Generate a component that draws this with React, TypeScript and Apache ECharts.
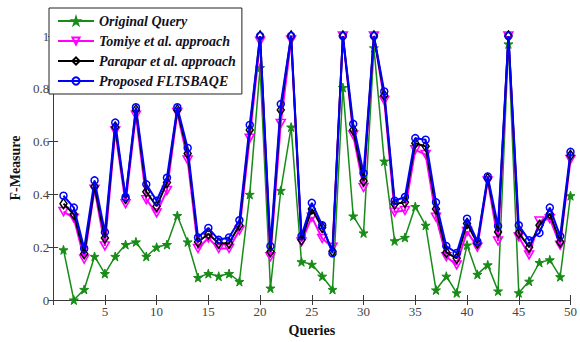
import React, { useEffect, useRef } from "react";
import * as echarts from "echarts";

const queries: number[] = Array.from({ length: 50 }, (_, i) => i + 1);

const originalQuery = [
  0.19, 0.0, 0.04, 0.165, 0.1, 0.165, 0.21, 0.22, 0.165, 0.2,
  0.21, 0.32, 0.22, 0.085, 0.1, 0.09, 0.1, 0.07, 0.4, 0.88,
  0.045, 0.415, 0.655, 0.145, 0.135, 0.09, 0.04, 0.805, 0.318, 0.254,
  0.955, 0.526, 0.224, 0.237, 0.354, 0.283, 0.038, 0.09, 0.027, 0.208,
  0.097, 0.133, 0.034, 0.97, 0.027, 0.071, 0.142, 0.152, 0.088, 0.395,
];

const tomiye = [
  0.335, 0.31, 0.155, 0.42, 0.205, 0.64, 0.365, 0.7, 0.38, 0.33,
  0.415, 0.71, 0.53, 0.195, 0.235, 0.195, 0.195, 0.264, 0.613, 0.98,
  0.164, 0.669, 0.985, 0.22, 0.314, 0.233, 0.2, 1.0, 0.625, 0.426,
  1.0, 0.756, 0.333, 0.339, 0.569, 0.551, 0.314, 0.164, 0.133, 0.26,
  0.2, 0.451, 0.224, 1.0, 0.239, 0.171, 0.299, 0.308, 0.208, 0.532,
];

const parapar = [
  0.365, 0.325, 0.175, 0.43, 0.235, 0.655, 0.385, 0.72, 0.41, 0.355,
  0.445, 0.72, 0.555, 0.22, 0.25, 0.215, 0.215, 0.283, 0.644, 1.0,
  0.183, 0.72, 1.0, 0.228, 0.345, 0.275, 0.185, 1.0, 0.644, 0.451,
  1.0, 0.775, 0.364, 0.37, 0.594, 0.582, 0.345, 0.18, 0.158, 0.29,
  0.215, 0.46, 0.258, 1.0, 0.254, 0.2, 0.283, 0.327, 0.22, 0.548,
];

const proposed = [
  0.395, 0.35, 0.195, 0.453, 0.257, 0.672, 0.39, 0.73, 0.438, 0.376,
  0.463, 0.73, 0.576, 0.237, 0.273, 0.228, 0.237, 0.302, 0.663, 1.0,
  0.204, 0.742, 1.0, 0.242, 0.368, 0.283, 0.177, 1.0, 0.667, 0.48,
  1.0, 0.79, 0.376, 0.39, 0.613, 0.607, 0.37, 0.204, 0.178, 0.308,
  0.222, 0.468, 0.28, 1.0, 0.283, 0.226, 0.254, 0.35, 0.242, 0.561,
];

const seriesNames = [
  "Original Query",
  "Tomiye et al. approach",
  "Parapar et al. approach",
  "Proposed FLTSBAQE",
];

const STAR =
  "path://M50,0 L61,35 L98,35 L68,57 L79,91 L50,70 L21,91 L32,57 L2,35 L39,35 Z";
const TRI_DOWN = "path://M0,0 L10,0 L5,9 Z";

const FONT = "Liberation Serif";
const AXIS_COLOR = "#3a3a3a";

export default function App() {
  const ref = useRef<HTMLDivElement>(null);

  useEffect(() => {
    if (!ref.current) return;
    const chart = echarts.init(ref.current, undefined, { renderer: "svg" });
    const pairs = (vals: number[]) => queries.map((q, i) => [q, vals[i]]);

    const xBase = {
      type: "value" as const,
      min: 0,
      max: 50,
      interval: 5,
      axisLine: { show: true, lineStyle: { color: AXIS_COLOR, width: 1 } },
      axisTick: { show: true, inside: true, length: 5, lineStyle: { color: AXIS_COLOR } },
      splitLine: { show: false },
    };
    const yBase = {
      type: "value" as const,
      min: 0,
      max: 1,
      interval: 0.2,
      axisLine: { show: true, lineStyle: { color: AXIS_COLOR, width: 1 } },
      axisTick: { show: true, inside: true, length: 5, lineStyle: { color: AXIS_COLOR } },
      splitLine: { show: false },
    };

    const mk = (
      name: string,
      vals: number[],
      color: string,
      symbol: string,
      size: number | number[],
      filled: boolean,
      width: number,
      z: number
    ) => ({
      name,
      type: "line",
      data: pairs(vals),
      clip: false,
      symbol,
      symbolSize: size,
      showAllSymbol: true,
      z,
      lineStyle: { color, width },
      itemStyle: filled
        ? { color, borderColor: color, borderWidth: 1 }
        : { color: "rgba(255,255,255,0)", borderColor: color, borderWidth: 1.5 },
      emphasis: { disabled: true },
    });

    chart.setOption({
      animation: false,
      backgroundColor: "#ffffff",
      grid: { left: 48, right: 7, top: 36, bottom: 38, containLabel: false },
      legend: {
        orient: "vertical",
        left: 49,
        top: 8,
        data: seriesNames,
        itemWidth: 36,
        itemHeight: 9,
        itemGap: 4,
        padding: [5, 6, 5, 8],
        backgroundColor: "#ffffff",
        borderColor: "#222",
        borderWidth: 1,
        textStyle: {
          fontFamily: FONT,
          fontStyle: "italic",
          fontWeight: "bold",
          fontSize: 14,
          color: "#111122",
          lineHeight: 16,
        },
        z: 10,
      },
      xAxis: [
        {
          ...xBase,
          position: "bottom",
          name: "Queries",
          nameLocation: "middle",
          nameGap: 23,
          nameTextStyle: { fontFamily: FONT, fontWeight: "bold", fontSize: 14, color: "#111" },
          axisLabel: {
            show: true,
            margin: 5,
            fontFamily: FONT,
            fontSize: 13,
            color: "#444",
            formatter: (v: number) => (v === 0 ? "" : String(v)),
          },
        },
        { ...xBase, position: "top", axisLabel: { show: false } },
      ],
      yAxis: [
        {
          ...yBase,
          position: "left",
          name: "F-Measure",
          nameLocation: "middle",
          nameGap: 28,
          nameTextStyle: { fontFamily: FONT, fontWeight: "bold", fontSize: 14, color: "#111" },
          axisLabel: {
            show: true,
            margin: 4,
            fontFamily: FONT,
            fontSize: 13,
            color: "#444",
          },
        },
        { ...yBase, position: "right", axisLabel: { show: false } },
      ],
      series: [
        mk(seriesNames[0], originalQuery, "#178c17", STAR, 9, true, 1.5, 2),
        mk(seriesNames[1], tomiye, "#ff00ff", TRI_DOWN, [9, 8], false, 2, 3),
        mk(seriesNames[2], parapar, "#000000", "diamond", [7, 10], false, 2, 4),
        mk(seriesNames[3], proposed, "#0000ff", "circle", 7, false, 2, 5),
      ],
    });

    return () => chart.dispose();
  }, []);

  return (
    <div
      ref={ref}
      style={{ position: "fixed", left: 0, top: 0, width: 580, height: 342 }}
    />
  );
}
